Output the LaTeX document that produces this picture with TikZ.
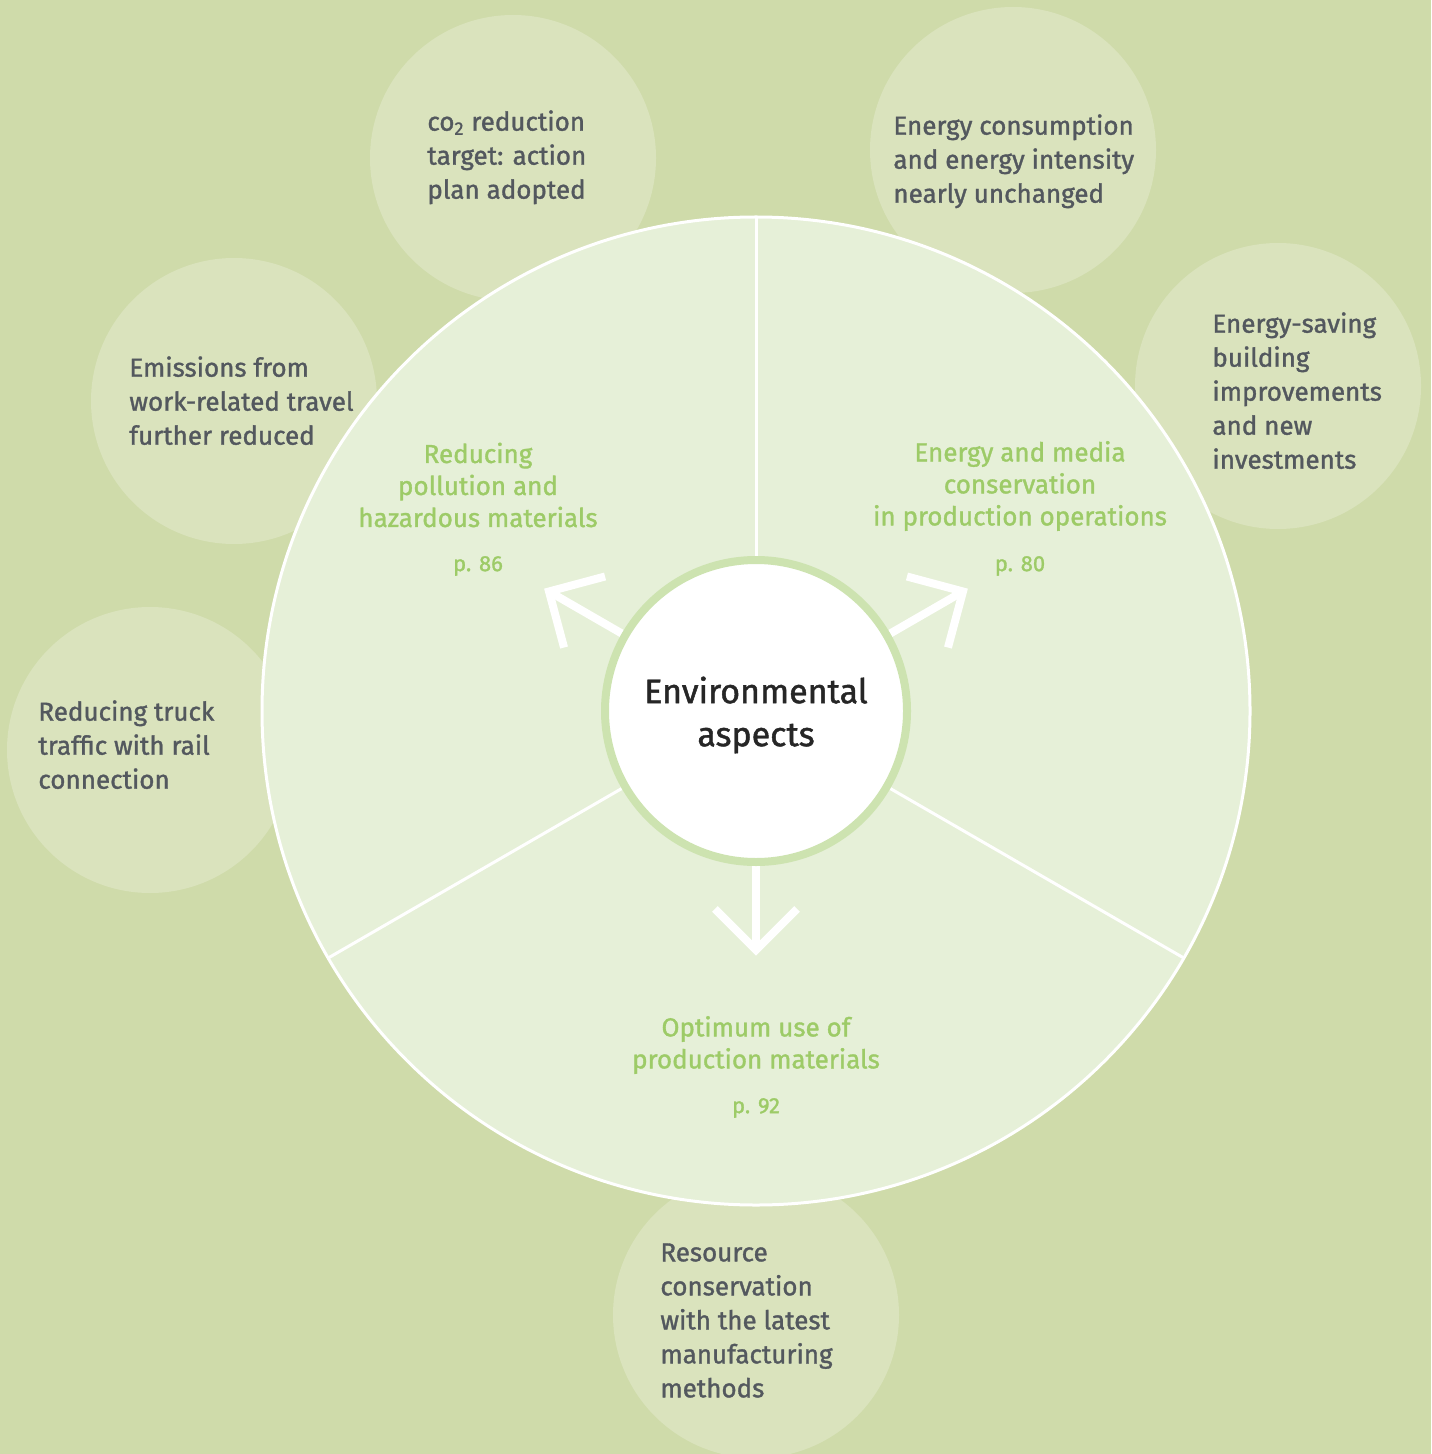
\documentclass[tikz,border=0pt]{standalone}
\usepackage{fontspec}
\setmainfont{Fira Sans}[FakeBold=1.3]
\usetikzlibrary{calc}
\definecolor{bg}{HTML}{CFDBAA}
\definecolor{bigfill}{HTML}{E6F0D8}
\definecolor{ringc}{HTML}{CDE3B0}
\definecolor{lbl}{HTML}{9DCB67}
\definecolor{dark}{HTML}{53585E}
\tikzset{
  bubble/.style={fill=white!22!bg, draw=none},
  bubtxt/.style={anchor=north west, inner sep=0pt, align=left, text=dark,
    font=\fontsize{13}{17}\selectfont},
  seclbl/.style={inner sep=0pt, align=center, text=lbl,
    font=\fontsize{13}{16}\selectfont},
  pagelbl/.style={inner sep=0pt, text=lbl, font=\fontsize{11}{13}\selectfont},
  divider/.style={draw=white, line width=1.5pt},
  chev/.style={draw=white, line width=4pt},
}
\begin{document}
\begin{tikzpicture}[x=0.5pt,y=-0.5pt]
\fill[bg] (0,0) rectangle (1431,1454);
\useasboundingbox (0,0) rectangle (1431,1454);
% bubbles
\fill[bubble] (513,158) circle (143);
\fill[bubble] (1013,150) circle (143);
\fill[bubble] (1278,386) circle (143);
\fill[bubble] (234,401) circle (143);
\fill[bubble] (150,750) circle (143);
\fill[bubble] (756,1315) circle (143);
% big circle
\coordinate (c) at (756,711);
\draw[fill=bigfill, draw=white, line width=1.5pt] (c) circle (494);
% dividers
\draw[divider] ($(c)+(-90:155)$) -- ($(c)+(-90:494)$);
\draw[divider] ($(c)+(150:155)$) -- ($(c)+(150:494)$);
\draw[divider] ($(c)+(30:155)$) -- ($(c)+(30:494)$);
% arrows
\foreach \a in {210,330,90}{
  \coordinate (s\a) at ($(c)+(\a:155)$);
  \coordinate (t\a) at ($(c)+(\a:239)$);
  \draw[chev] (s\a) -- (t\a);
  \draw[chev, line join=miter] ($(t\a)+(\a+180-45:58)$) -- (t\a) -- ($(t\a)+(\a+180+45:58)$);
}
% centre
\node[circle, fill=white, draw=ringc, line width=4pt, minimum size=151pt, inner sep=0pt] (centre) at (c) {};
\node[align=center, inner sep=0pt, text=black!85, font=\fontsize{17}{21.5}\selectfont] (title) at (756,715)
  {Environmental\\aspects};
% sector labels
\node[seclbl] (l1) at (478,485) {Reducing\\pollution and\\hazardous materials};
\node[pagelbl] (p1) at (478,566) {p. 86};
\node[seclbl] (l2) at (1020,486) {Energy and media\\conservation\\in production operations};
\node[pagelbl] (p2) at (1020,566) {p. 80};
\node[seclbl] (l3) at (756,1045) {Optimum use of\\production materials};
\node[pagelbl] (p3) at (756,1108) {p. 92};
% bubble texts
\node[bubtxt] (b1) at (427,110) {co\textsubscript{2} reduction\\target: action\\plan adopted};
\node[bubtxt] (b2) at (893,114) {Energy consumption\\and energy intensity\\nearly unchanged};
\node[bubtxt] (b3) at (1212,312) {Energy-saving\\building\\improvements\\and new\\investments};
\node[bubtxt] (b4) at (129,356) {Emissions from\\work-related travel\\further reduced};
\node[bubtxt] (b5) at (38,700) {Reducing truck\\traffic with rail\\connection};
\node[bubtxt] (b6) at (660,1243) {Resource\\conservation\\with the latest\\manufacturing\\methods};
\end{tikzpicture}
\end{document}
